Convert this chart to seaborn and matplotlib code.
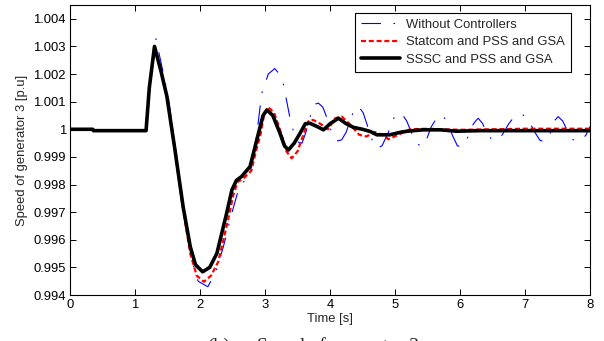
"""
Speed of generator 3 under three control setups (recreated line chart).
"""

import numpy as np
import pandas as pd
import seaborn as sns
import matplotlib.pyplot as plt
from matplotlib.ticker import FuncFormatter, MultipleLocator

# --- data -----------------------------------------------------------------
t_without = [0, 0.35, 0.36, 1.17, 1.24, 1.32, 1.42, 1.51, 1.63, 1.76, 1.87, 1.97,
             2.12, 2.24, 2.36, 2.47, 2.59, 2.70, 2.78, 2.85, 2.95, 3.05, 3.15, 3.22,
             3.28, 3.38, 3.45, 3.52, 3.57, 3.63, 3.70, 3.76, 3.82, 3.89, 3.97, 4.05,
             4.12, 4.18, 4.25, 4.32, 4.38, 4.44, 4.51, 4.58, 4.65, 4.72, 4.80, 4.90,
             4.98, 5.04, 5.10, 5.18, 5.25, 5.33, 5.41, 5.48, 5.56, 5.64, 5.72, 5.80,
             5.88, 5.96, 6.03, 6.10, 6.18, 6.24, 6.28, 6.35, 6.42, 6.50, 6.56, 6.65,
             6.75, 6.85, 6.97, 7.06, 7.15, 7.23, 7.31, 7.38, 7.45, 7.51, 7.58, 7.66,
             7.74, 7.81, 7.87, 7.94, 8.0]
v_without = [1.0, 1.0, 0.99995, 0.99995, 1.0018, 1.0033, 1.0022, 1.0012, 0.9992,
             0.9970, 0.9953, 0.9945, 0.9943, 0.9948, 0.99575, 0.9968, 0.9978, 0.9982,
             0.9985, 0.99937, 1.0013, 1.0020, 1.0022, 1.0020, 1.00167, 1.00046, 0.9998,
             0.99952, 0.9995, 0.9999, 1.0005, 1.0009, 1.00095, 1.0008, 1.0003, 0.9997,
             0.99958, 0.99962, 0.9999, 1.0004, 1.00075, 1.00082, 1.0006, 1.0001, 0.9996,
             0.99931, 0.9994, 0.9999, 1.0004, 1.00056, 1.00058, 1.0003, 0.9999, 0.9995,
             0.99937, 0.9996, 1.0001, 1.0004, 1.00052, 1.0003, 0.9998, 0.9994, 0.99937,
             0.9996, 1.0001, 1.0003, 1.0004, 1.0002, 0.9998, 0.99962, 0.9996, 0.9998,
             1.0002, 1.0005, 1.00052, 1.0003, 0.9999, 0.9996, 0.99955, 0.9998, 1.0003,
             1.00046, 1.0003, 0.9999, 0.99962, 0.9996, 0.9996, 0.9998, 1.0001]

t_statcom = [0, 0.35, 0.36, 1.17, 1.22, 1.30, 1.40, 1.49, 1.615, 1.74, 1.85, 1.95,
             2.06, 2.17, 2.28, 2.43, 2.51, 2.58, 2.66, 2.79, 2.86, 2.93, 2.99, 3.05,
             3.14, 3.25, 3.33, 3.41, 3.50, 3.59, 3.67, 3.74, 3.85, 3.97, 4.08, 4.18,
             4.30, 4.45, 4.56, 4.69, 4.80, 4.90, 5.05, 5.23, 5.5, 6.0, 6.5, 7.0, 8.0]
v_statcom = [1.0, 1.0, 0.99995, 0.99995, 1.0015, 1.0029, 1.0021, 1.0012, 0.9992,
             0.9971, 0.9955, 0.9947, 0.99448, 0.9947, 0.9952, 0.9967, 0.9976, 0.9981,
             0.9982, 0.9985, 0.9992, 0.9998, 1.0006, 1.0008, 1.0006, 0.99985, 0.9992,
             0.99895, 0.9992, 0.9998, 1.0003, 1.00034, 1.0002, 1.0, 1.0004, 1.00046,
             1.0002, 0.9998, 0.99974, 0.9999, 0.9998, 0.99964, 0.9998, 1.0, 1.00002,
             0.99998, 1.0, 1.00002, 1.00002]

t_sssc = [0, 0.35, 0.36, 1.17, 1.22, 1.30, 1.40, 1.49, 1.615, 1.74, 1.85, 1.93,
          2.04, 2.15, 2.26, 2.41, 2.49, 2.56, 2.64, 2.77, 2.84, 2.90, 2.97, 3.03,
          3.12, 3.23, 3.30, 3.36, 3.45, 3.54, 3.62, 3.69, 3.80, 3.90, 4.00, 4.13,
          4.25, 4.36, 4.50, 4.62, 4.72, 4.92, 5.1, 5.23, 5.43, 5.7, 5.95, 6.3, 7.0, 8.0]
v_sssc = [1.0, 1.0, 0.99995, 0.99995, 1.0015, 1.0030, 1.0021, 1.0012, 0.99925,
          0.9972, 0.99575, 0.9951, 0.99484, 0.9950, 0.99551, 0.99696, 0.9978, 0.99815,
          0.99829, 0.99865, 0.9993, 0.99986, 1.0005, 1.0007, 1.0005, 0.99986, 0.9994,
          0.99925, 0.9995, 0.99986, 1.0002, 1.00022, 1.0001, 0.99998, 1.0002, 1.0004,
          1.0002, 1.00007, 1.0, 0.99992, 0.9998, 0.9998, 0.9999, 0.99994, 0.99998,
          0.99998, 0.99993, 0.99995, 0.99995, 0.99995]

labels = ['Without Controllers', 'Statcom and PSS and GSA', 'SSSC and PSS and GSA']


def main():
    sns.set_style('ticks')
    plt.rcParams['font.family'] = ['Liberation Sans', 'DejaVu Sans']
    plt.rcParams['lines.scale_dashes'] = False
    plt.rcParams['xtick.direction'] = 'in'
    plt.rcParams['ytick.direction'] = 'in'

    fig = plt.figure(figsize=(6.04, 3.41), dpi=100)
    ax = fig.add_axes([70 / 604, 1 - 295 / 341, 520 / 604, 290 / 341])

    series = [
        (t_without, v_without, dict(color='#0000ff', lw=0.8, linestyle=(0, (14, 9, 1.2, 9)))),
        (t_statcom, v_statcom, dict(color='#ff0000', lw=1.6, linestyle=(0, (3.6, 2.0)))),
        (t_sssc, v_sssc, dict(color='black', lw=2.6, linestyle='-')),
    ]
    for (t, v, style), lab in zip(series, labels):
        df = pd.DataFrame({'Time': t, 'Speed': v})
        sns.lineplot(data=df, x='Time', y='Speed', ax=ax, sort=False,
                     estimator=None, label=lab, solid_joinstyle='round',
                     dash_joinstyle='round', **style)

    ax.set_xlim(0, 8)
    ax.set_ylim(0.994, 1.0045)
    ax.xaxis.set_major_locator(MultipleLocator(1))
    ax.yaxis.set_major_locator(MultipleLocator(0.001))
    ax.yaxis.set_major_formatter(FuncFormatter(lambda v, p: f'{round(v, 4):g}'))
    ax.tick_params(which='both', top=True, right=True, length=4, width=0.7,
                   labelsize=9.4, colors='black', pad=3)
    for s in ax.spines.values():
        s.set_linewidth(0.8)
        s.set_color('black')

    ax.set_xlabel('Time [s]', fontsize=9.4, labelpad=1)
    ax.set_ylabel('Speed of generator 3 [p.u]', fontsize=9.4, labelpad=4)

    leg = ax.legend(loc='upper right', bbox_to_anchor=(0.9635, 0.9724),
                    borderaxespad=0, fancybox=False, framealpha=1,
                    edgecolor='black', fontsize=9.4, handlelength=3.0,
                    labelspacing=0.4, borderpad=0.45, handletextpad=0.5)
    leg.get_frame().set_linewidth(0.8)

    # caption below the figure, cut off at the bottom edge as in the source
    fig.text(207 / 604, -0.029, '(b)', fontsize=14,
             family='Liberation Serif', va='baseline', ha='left')
    fig.text(257 / 604, -0.029, 'Speed of generator 3', fontsize=14,
             family='Liberation Serif', va='baseline', ha='left')

    fig.savefig('out.png', dpi=100)


if __name__ == "__main__":
    main()
